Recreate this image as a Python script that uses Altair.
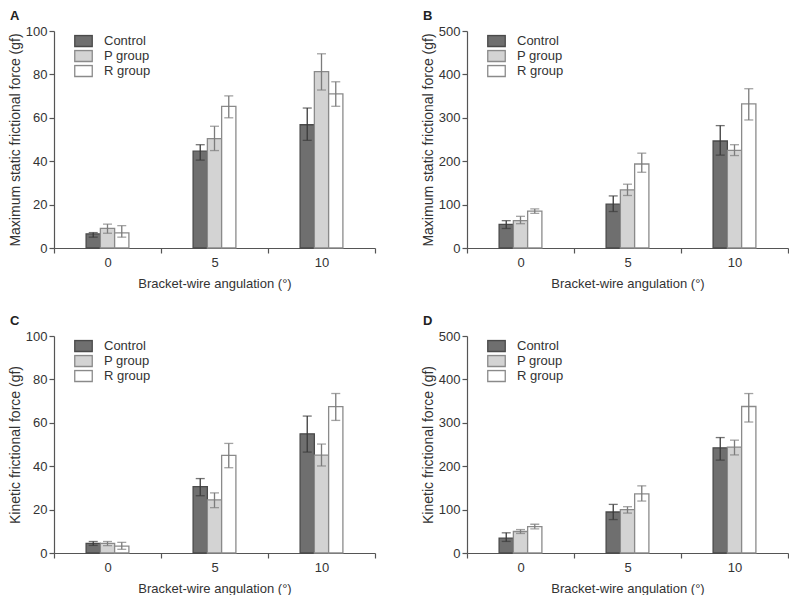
import altair as alt
import pandas as pd

angles = ["0", "5", "10"]
groups = ["Control", "P group", "R group"]

# Panel A: maximum static frictional force (gf), low scale
a_ctrl = [6.5, 44.6, 56.8]; a_ctrl_lo = [5.0, 40.5, 49.6]; a_ctrl_hi = [7.1, 47.6, 64.5]
a_p = [9.0, 50.4, 81.3];    a_p_lo = [6.8, 44.9, 72.8];    a_p_hi = [11.0, 56.1, 89.5]
a_r = [7.0, 65.3, 71.0];    a_r_lo = [5.0, 60.0, 65.3];    a_r_hi = [10.3, 70.1, 76.6]

# Panel B: maximum static frictional force (gf), high scale
b_ctrl = [54.6, 101, 246.6]; b_ctrl_lo = [45, 84, 214]; b_ctrl_hi = [63, 120, 282]
b_p = [63, 134, 225];        b_p_lo = [56, 121, 213];   b_p_hi = [73, 147, 238]
b_r = [85, 193.5, 332];      b_r_lo = [80, 174.5, 295]; b_r_hi = [90, 218.5, 367]

# Panel C: kinetic frictional force (gf), low scale
c_ctrl = [4.4, 30.6, 54.9]; c_ctrl_lo = [3.5, 26.4, 46.5]; c_ctrl_hi = [5.3, 34.3, 63.1]
c_p = [4.4, 24.5, 45.1];    c_p_lo = [3.4, 20.9, 40.1];    c_p_hi = [5.3, 27.7, 50.2]
c_r = [3.2, 45.0, 67.5];    c_r_lo = [1.7, 39.3, 61.1];    c_r_hi = [4.9, 50.5, 73.5]

# Panel D: kinetic frictional force (gf), high scale
d_ctrl = [34.3, 94.5, 242.4]; d_ctrl_lo = [26.7, 77, 214]; d_ctrl_hi = [46.5, 112, 266]
d_p = [49.5, 99.8, 244];      d_p_lo = [45, 92, 226];      d_p_hi = [54, 106.7, 260]
d_r = [61, 136.4, 337.6];     d_r_lo = [55.6, 119.7, 301.8]; d_r_hi = [66.3, 154.7, 367.4]

fill_colors = ["#6f6f6f", "#d3d3d3", "#ffffff"]
stroke_colors = ["#4a4a4a", "#8a8a8a", "#8a8a8a"]
err_colors = ["#3a3a3a", "#7c7c7c", "#7c7c7c"]

FONT = "Liberation Sans"
W, H = 321, 217
BW = W / 3.0  # width of one angle band


def make_df(series):
    rows = []
    for g, (m, lo, hi) in zip(groups, series):
        for a, mv, lv, hv in zip(angles, m, lo, hi):
            rows.append({"angle": a, "group": g, "mean": mv, "lo": lv, "hi": hv})
    return pd.DataFrame(rows)


def legend():
    return alt.Legend(title=None, orient="none", legendX=20, legendY=3.5,
                      symbolType="M-1,-0.63L1,-0.63L1,0.63L-1,0.63Z",
                      symbolSize=306, symbolStrokeWidth=1.3,
                      labelFontSize=13, labelFont=FONT, labelColor="#333",
                      labelOffset=11, rowPadding=1, clipHeight=13, padding=0)


def panel(df, letter, ytitle, ymax):
    ticks = list(range(0, ymax + 1, ymax // 5))
    x = alt.X("angle:N", sort=angles,
              scale=alt.Scale(paddingInner=0, paddingOuter=0),
              axis=alt.Axis(title="Bracket-wire angulation (°)", labelAngle=0,
                            tickBand="extent", tickSize=5, labelPadding=3,
                            titlePadding=8, labelFontSize=13, titleFontSize=13,
                            titleFontWeight="normal", grid=False))
    xo = alt.XOffset("group:N", sort=groups,
                     scale=alt.Scale(range=[BW * 0.3, BW * 0.7], paddingInner=0,
                                     paddingOuter=0))
    y_axis = alt.Axis(title=ytitle, values=ticks, tickSize=5, labelPadding=2,
                      titlePadding=3, labelFontSize=13, titleFontSize=14,
                      titleFontWeight="normal", grid=False)
    base = alt.Chart(df)
    bars = base.mark_bar(strokeWidth=1.3).encode(
        x=x, xOffset=xo,
        y=alt.Y("mean:Q", scale=alt.Scale(domain=[0, ymax], nice=False), axis=y_axis),
        fill=alt.Fill("group:N", sort=groups,
                      scale=alt.Scale(domain=groups, range=fill_colors),
                      legend=legend()),
        stroke=alt.Stroke("group:N", sort=groups,
                          scale=alt.Scale(domain=groups, range=stroke_colors),
                          legend=legend()),
    )
    ecol = alt.Color("group:N", sort=groups,
                     scale=alt.Scale(domain=groups, range=err_colors), legend=None)
    rule = base.mark_rule(strokeWidth=1.3).encode(
        x=x, xOffset=xo, y=alt.Y("lo:Q"), y2="hi:Q", color=ecol)
    cap_lo = base.mark_tick(size=9, thickness=1.3).encode(
        x=x, xOffset=xo, y=alt.Y("lo:Q"), color=ecol)
    cap_hi = base.mark_tick(size=9, thickness=1.3).encode(
        x=x, xOffset=xo, y=alt.Y("hi:Q"), color=ecol)
    return alt.layer(bars, rule, cap_lo, cap_hi).properties(
        width=W, height=H,
        title=alt.TitleParams(letter, anchor="start", frame="group", dx=-44,
                              fontSize=13, fontWeight="bold", font=FONT,
                              color="#222", offset=2),
    )


dfA = make_df([(a_ctrl, a_ctrl_lo, a_ctrl_hi), (a_p, a_p_lo, a_p_hi), (a_r, a_r_lo, a_r_hi)])
dfB = make_df([(b_ctrl, b_ctrl_lo, b_ctrl_hi), (b_p, b_p_lo, b_p_hi), (b_r, b_r_lo, b_r_hi)])
dfC = make_df([(c_ctrl, c_ctrl_lo, c_ctrl_hi), (c_p, c_p_lo, c_p_hi), (c_r, c_r_lo, c_r_hi)])
dfD = make_df([(d_ctrl, d_ctrl_lo, d_ctrl_hi), (d_p, d_p_lo, d_p_hi), (d_r, d_r_lo, d_r_hi)])

pA = panel(dfA, "A", "Maximum static frictional force (gf)", 100)
pB = panel(dfB, "B", "Maximum static frictional force (gf)", 500)
pC = panel(dfC, "C", "Kinetic frictional force (gf)", 100)
pD = panel(dfD, "D", "Kinetic frictional force (gf)", 500)

res = dict(fill="independent", stroke="independent", color="independent",
           y="independent", x="independent", xOffset="independent")

row1 = alt.hconcat(pA, pB, spacing=45).resolve_scale(**res).resolve_legend(
    fill="independent", stroke="independent")
row2 = alt.hconcat(pC, pD, spacing=45).resolve_scale(**res).resolve_legend(
    fill="independent", stroke="independent")

chart = alt.vconcat(row1, row2, spacing=25).resolve_scale(**res).resolve_legend(
    fill="independent", stroke="independent").properties(
    padding={"left": 0, "top": 2, "right": 0, "bottom": 0},
    background="white",
).configure_view(stroke=None).configure_axis(
    grid=False, domainColor="#555", tickColor="#555", labelColor="#333",
    titleColor="#333", labelFont=FONT, titleFont=FONT, titleFontWeight="normal",
    domainWidth=1.2, tickWidth=1.2
)

chart.save("out.html", embed_options={"renderer": "svg", "actions": False})
